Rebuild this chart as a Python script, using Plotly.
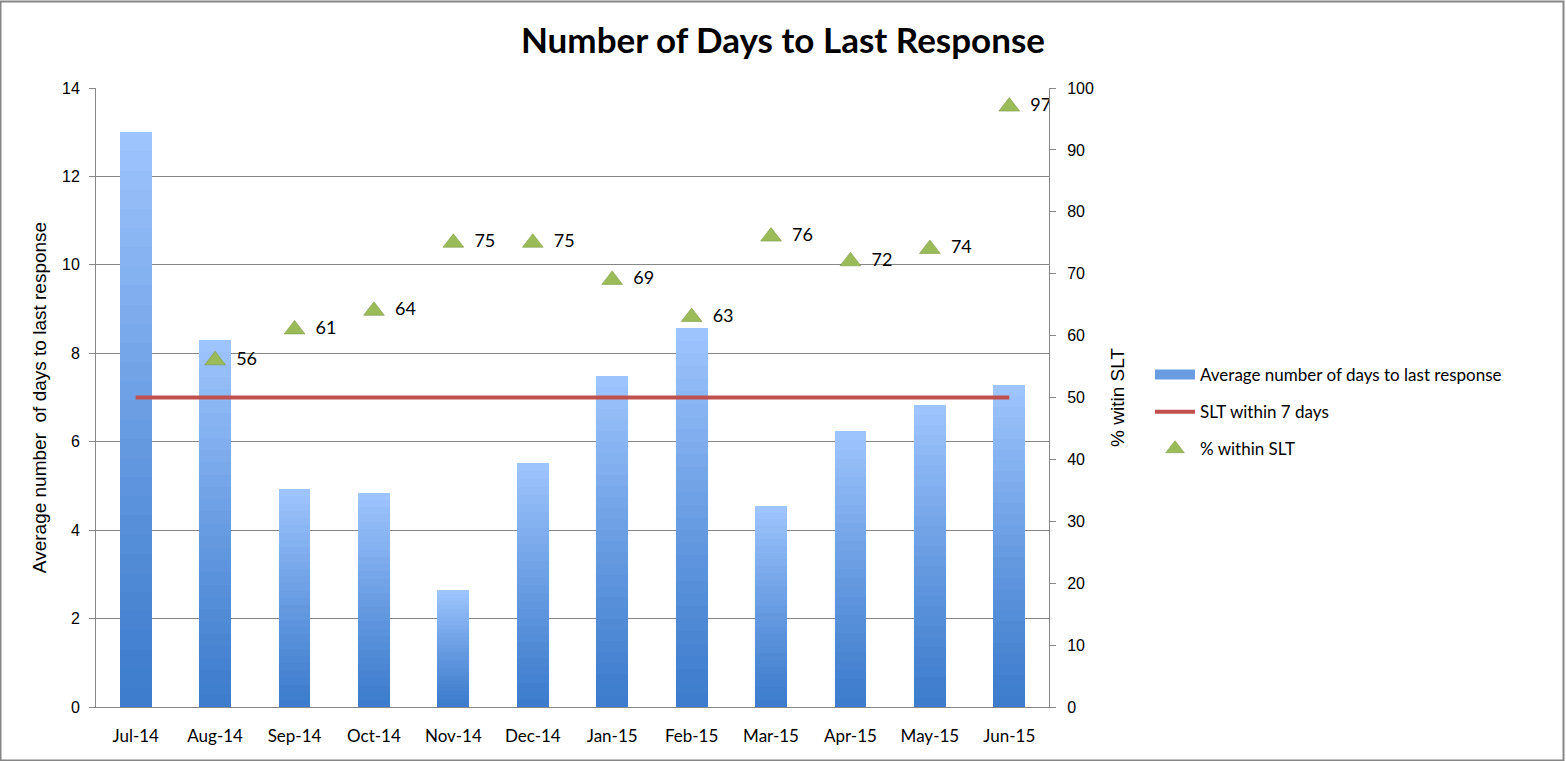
import plotly.graph_objects as go

months = ["Jul-14", "Aug-14", "Sep-14", "Oct-14", "Nov-14", "Dec-14",
          "Jan-15", "Feb-15", "Mar-15", "Apr-15", "May-15", "Jun-15"]
avg_days = [13.0, 8.3, 4.93, 4.84, 2.65, 5.52, 7.49, 8.57, 4.55, 6.24, 6.83, 7.28]
slt_days = [7, 7, 7, 7, 7, 7, 7, 7, 7, 7, 7, 7]
pct_within = [None, 56, 61, 64, 75, 75, 69, 63, 76, 72, 74, 97]

N_SEG = 30
dark = (0x3E, 0x7D, 0xCD)
light = (0x9E, 0xC4, 0xFD)

def mix(t):
    return "rgb(%d,%d,%d)" % tuple(round(d + (l - d) * t) for d, l in zip(dark, light))

fig = go.Figure()

# legend entry for bars (wide bar-like swatch)
fig.add_trace(go.Scatter(x=months, y=[None] * len(months), mode="lines",
                         name="Average number of days to last response",
                         line=dict(color="#6A9CE2", width=11), legendgroup="bars"))
# gradient bars: stacked slices of each bar
for k in range(N_SEG):
    t = (k / (N_SEG - 1)) ** 1.15
    fig.add_trace(go.Bar(x=months, y=[v / N_SEG for v in avg_days], marker=dict(color=mix(t), line=dict(width=0)),
                         showlegend=False, legendgroup="bars", hoverinfo="skip"))

fig.add_trace(go.Scatter(x=months, y=slt_days, mode="lines", name="SLT within 7 days",
                         line=dict(color="#C0504D", width=4), legendgroup="slt"))

fig.add_trace(go.Scatter(x=months, y=pct_within, mode="markers", name="% within SLT", yaxis="y2",
                         legendgroup="pct",
                         marker=dict(symbol="triangle-up", size=18, color="#9BBB59",
                                     line=dict(color="#7E9A45", width=0.6))))
fig.add_trace(go.Scatter(x=months, y=pct_within, mode="markers+text", yaxis="y2", showlegend=False,
                         legendgroup="pct",
                         text=[("" if v is None else str(v)) for v in pct_within],
                         textposition="middle right",
                         textfont=dict(family="Lato", size=18, color="#000000"),
                         marker=dict(symbol="triangle-up", size=32, opacity=0), hoverinfo="skip"))

W, H = 1566, 761
L, R, T, B = 96, 517, 88, 54
pw, ph = W - L - R, H - T - B

fig.update_layout(
    width=W, height=H,
    margin=dict(l=L, r=R, t=T, b=B),
    paper_bgcolor="white", plot_bgcolor="white",
    barmode="stack", bargap=0.6,
    title=dict(text="<b>Number of Days to Last Response</b>", x=783 / W, xanchor="center",
               y=1 - 41 / H, yanchor="middle",
               font=dict(family="Lato", size=35, color="#000000")),
    xaxis=dict(showline=True, linecolor="#868686", linewidth=1, ticks="",
               tickfont=dict(family="Lato", size=17, color="#000000"), ticklabelstandoff=14,
               range=[-0.5, 11.5]),
    yaxis=dict(range=[0, 14], dtick=2, showgrid=True, gridcolor="#868686", gridwidth=1,
               showline=True, linecolor="#868686", linewidth=1, ticks="outside", ticklen=6,
               tickcolor="#868686", ticklabelstandoff=6, zeroline=False,
               tickfont=dict(family="Liberation Sans", size=16, color="#000000"),
               title=dict(text="Average number  of days to last response", standoff=10,
                          font=dict(family="Liberation Sans", size=19, color="#000000"))),
    yaxis2=dict(range=[0, 100], dtick=10, overlaying="y", side="right", showgrid=False,
                showline=True, linecolor="#868686", linewidth=1, ticks="outside", ticklen=6,
                tickcolor="#868686", ticklabelstandoff=8, zeroline=False,
                tickfont=dict(family="Liberation Sans", size=16, color="#000000"),
                title=dict(text="% witin SLT", standoff=17,
                           font=dict(family="Liberation Sans", size=19, color="#000000"))),
    legend=dict(x=(1150 - L) / pw, y=(H - B - 412) / ph, xanchor="left", yanchor="middle",
                font=dict(family="Lato", size=17, color="#000000"), itemwidth=40,
                traceorder="grouped", tracegroupgap=12, bgcolor="rgba(0,0,0,0)"),
    showlegend=True,
    shapes=[dict(type="rect", xref="paper", yref="paper",
                 x0=(0.5 - L) / pw, x1=(W - 2.5 - L) / pw,
                 y0=-(B - 0.5) / ph, y1=(H - B - 1.5) / ph,
                 line=dict(color="#868686", width=2), layer="above")],
)

fig.write_html("out.html")
